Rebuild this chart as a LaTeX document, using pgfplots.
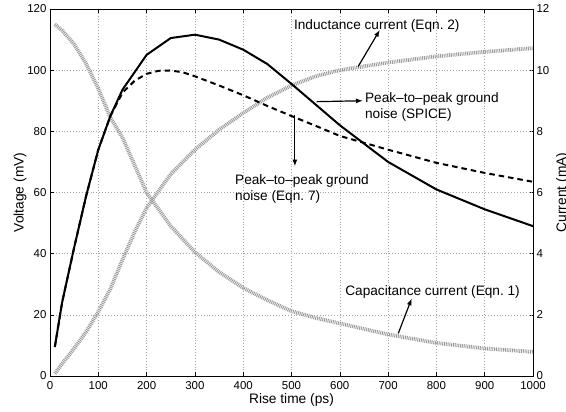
\documentclass[border=0pt]{standalone}
\usepackage{fontspec}
\setmainfont{Liberation Sans}
\usepackage{pgfplots}
\pgfplotsset{compat=1.18}
\usetikzlibrary{arrows.meta}

% currents (mA)
\pgfplotstableread{
x    cap    ind
10   11.50  0.08
25   11.30  0.40
50   10.85  0.90
75   10.20  1.45
100  9.40   2.10
125  8.45   2.85
150  7.80   3.80
175  6.90   4.70
200  6.00   5.50
250  4.90   6.60
300  4.05   7.40
350  3.40   8.05
400  2.88   8.60
450  2.48   9.10
500  2.12   9.50
550  1.90   9.80
600  1.72   10.00
700  1.36   10.25
800  1.08   10.45
900  0.90   10.60
1000 0.79   10.72
}\currents

% peak-to-peak ground noise (mV)
\pgfplotstableread{
x    spice
10   9.5
25   24
50   42
75   59
100  74
125  85
150  93.6
200  105
250  110.5
300  111.6
350  110.0
400  106.7
450  102.0
500  95.5
600  82.0
700  70.0
800  61.0
900  54.5
1000 49.0
}\spice

\pgfplotstableread{
x    eqn
10   9.5
25   24
50   42
75   59
100  74
125  85
150  92.6
175  96.5
200  98.8
225  99.8
250  99.9
275  99.3
300  98.0
350  95.0
400  91.8
450  88.3
500  85.0
550  81.8
600  78.5
700  74.0
800  69.7
900  66.4
1000 63.5
}\eqnseven

\begin{document}
\begin{tikzpicture}
\pgfplotsset{
  common/.style={
    width=483bp, height=367bp, scale only axis,
    xmin=0, xmax=1000,
    tick align=inside,
    major tick length=4bp,
    axis line style={line width=0.7bp},
    every tick/.style={line width=0.6bp, black},
    tick label style={font=\fontsize{11.5}{12}\selectfont},
    label style={font=\fontsize{13.8}{15}\selectfont},
    /pgf/number format/assume math mode=true,
    /pgf/number format/1000 sep={},
    scaled ticks=false,
  }
}
% right axis: currents
\begin{axis}[common,
    axis x line=none,
    axis y line*=right,
    ymin=0, ymax=12,
    ytick={0,2,...,12},
    ylabel={Current (mA)},
    ylabel style={at={(rel axis cs:1,0.5)}, anchor=north, inner sep=0pt, yshift=-23bp},
  ]
\addplot[gray!80, line width=3.8bp, dash pattern=on 0.9bp off 0.9bp] table[x=x, y=cap] {\currents};
\addplot[gray!80, line width=3.8bp, dash pattern=on 0.9bp off 0.9bp] table[x=x, y=ind] {\currents};
\end{axis}
% left axis: voltages
\begin{axis}[common,
    ymin=0, ymax=120,
    xtick={0,100,...,1000},
    ytick={0,20,...,120},
    xtick pos=both,
    ytick pos=left,
    grid=major,
    grid style={gray!70, line width=0.5bp, dash pattern=on 0.7bp off 2.2bp},
    xlabel={Rise time (ps)},
    ylabel={Voltage (mV)},
    xticklabel style={yshift=-1.5bp},
    xlabel style={yshift=2bp},
    ylabel style={yshift=-6bp},
  ]
\addplot[black, line width=2bp] table[x=x, y=spice] {\spice};
\addplot[black, line width=2bp, dash pattern=on 5.5bp off 4bp] table[x=x, y=eqn] {\eqnseven};

\coordinate (sw) at (rel axis cs:0,0);
\coordinate (ne) at (rel axis cs:1,1);

\begin{scope}[every node/.style={font=\fontsize{13.7}{15.5}\selectfont, inner sep=0pt, align=left},
              arr/.style={-{Latex[length=7bp,width=5bp]}, line width=1.2bp}]
\node[anchor=west] at (axis cs:505,114.5) {Inductance current (Eqn.~2)};
\draw[arr] (axis cs:638,101.2) -- (axis cs:683,113.2);
\node[anchor=west] at (axis cs:652,87.9) {Peak–to–peak ground\\noise (SPICE)};
\draw[arr] (axis cs:552,89.7) -- (axis cs:648,90);
\node[anchor=west] at (axis cs:383,61.1) {Peak–to–peak ground\\noise (Eqn.~7)};
\draw[arr] (axis cs:507,85.4) -- (axis cs:507,68.5);
\node[anchor=west] at (axis cs:611,27.5) {Capacitance current (Eqn.~1)};
\draw[arr] (axis cs:721,13.9) -- (axis cs:749,25.4);
\end{scope}
\end{axis}
\pgfresetboundingbox
\path ([shift={(-50bp,-36bp)}]sw) rectangle ([shift={(33bp,9bp)}]ne);
\end{tikzpicture}
\end{document}
